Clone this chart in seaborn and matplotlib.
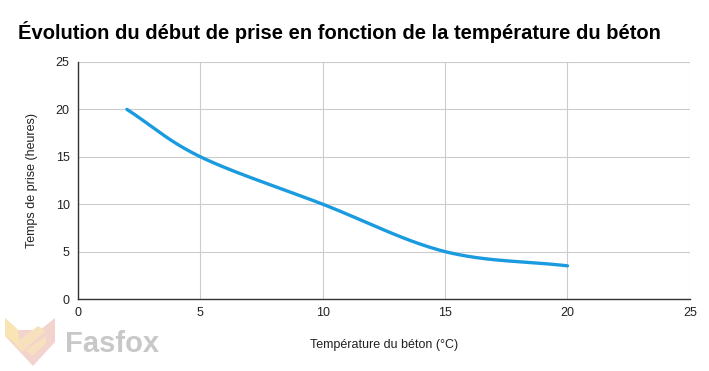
import numpy as np
import pandas as pd
import matplotlib
matplotlib.use('Agg')
import matplotlib.pyplot as plt
from matplotlib.patches import Polygon
import seaborn as sns

# data
temperature = [2, 5, 10, 15, 20]
setting_time = [20, 15, 10, 5, 3.5]
x_ticks = [0, 5, 10, 15, 20, 25]
y_ticks = [0, 5, 10, 15, 20, 25]

title = 'Évolution du début de prise en fonction de la température du béton'
x_label = 'Température du béton (°C)'
y_label = 'Temps de prise (heures)'

W, H = 709, 371


def smooth(x, y, n=40):
    '''Catmull-Rom curve through the points, to mimic the smoothed line.'''
    x = np.asarray(x, float)
    y = np.asarray(y, float)
    px = np.concatenate([[2 * x[0] - x[1]], x, [2 * x[-1] - x[-2]]])
    py = np.concatenate([[2 * y[0] - y[1]], y, [2 * y[-1] - y[-2]]])
    xs, ys = [], []
    t = np.linspace(0, 1, n)
    for i in range(1, len(px) - 2):
        for p, out in ((px, xs), (py, ys)):
            p0, p1, p2, p3 = p[i - 1], p[i], p[i + 1], p[i + 2]
            out.extend(0.5 * (2 * p1 + (-p0 + p2) * t
                              + (2 * p0 - 5 * p1 + 4 * p2 - p3) * t ** 2
                              + (-p0 + 3 * p1 - 3 * p2 + p3) * t ** 3))
    return np.array(xs), np.array(ys)


def logo_part(fig, pts, color):
    # pts in pixels from the top-left corner
    xy = [[px / W, 1 - py / H] for px, py in pts]
    fig.patches.append(Polygon(xy, closed=True, transform=fig.transFigure,
                               facecolor=color, edgecolor='none', zorder=0))


sns.set_style('white')
plt.rcParams['font.family'] = ['Liberation Sans', 'DejaVu Sans']

fig = plt.figure(figsize=(W / 100, H / 100), dpi=100)
ax = fig.add_axes([0.110, 0.194, 0.863, 0.639])

sx, sy = smooth(temperature, setting_time)
curve = pd.DataFrame({'temp': sx, 'hours': sy})
sns.lineplot(data=curve, x='temp', y='hours', color='#1a9be0', linewidth=2.4,
             sort=False, ax=ax)

ax.set_xlim(0, 25)
ax.set_ylim(0, 25)
ax.set_xticks(x_ticks)
ax.set_yticks(y_ticks)
ax.grid(True, color='#cccccc', linewidth=0.8)
ax.tick_params(length=0, labelsize=9, colors='#222222', pad=6)
for s in ['top', 'right']:
    ax.spines[s].set_visible(False)
for s in ['left', 'bottom']:
    ax.spines[s].set_color('#333333')
    ax.spines[s].set_linewidth(1)
ax.set_xlabel(x_label, fontsize=9, color='#222222', labelpad=14)
ax.set_ylabel(y_label, fontsize=9, color='#222222', labelpad=13)

fig.text(0.026, 0.915, title, fontsize=14.5, fontweight='bold', color='black',
         ha='left', va='center')

# watermark logo
logo_part(fig, [(5, 318), (18, 330), (40, 330), (55, 318), (55, 342),
                (33, 366), (5, 336)], '#f3d3cd')
logo_part(fig, [(5, 318), (18, 330), (20, 347), (5, 336)], '#f9e5b3')
logo_part(fig, [(14, 344), (38, 326), (46, 331), (22, 352)], '#f7e0bd')
logo_part(fig, [(26, 350), (46, 336), (46, 344), (32, 356)], '#f7e0bd')
fig.text(0.091, 0.072, 'Fasfox', fontsize=21, fontweight='bold', color='#c8c8c8',
         ha='left', va='center')

fig.savefig('out.png', dpi=100)
